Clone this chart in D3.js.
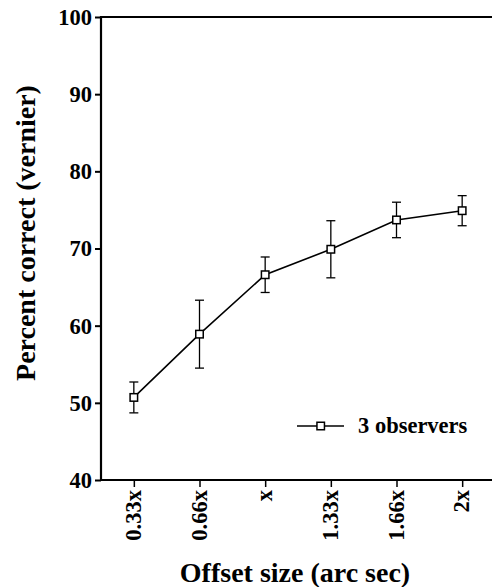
<!DOCTYPE html>
<html>
<head>
<meta charset="utf-8">
<script src="https://cdn.jsdelivr.net/npm/d3@7"></script>
<style>
  html, body { margin: 0; padding: 0; background: #fff; }
  svg { display: block; }
</style>
</head>
<body>
<svg id="chart" width="492" height="587"></svg>
<script>
const categories = ["0.33x", "0.66x", "x", "1.33x", "1.66x", "2x"];
const values = [50.7, 58.9, 66.6, 69.9, 73.7, 74.9];
const errors = [2.0, 4.4, 2.3, 3.7, 2.3, 1.95];
const yTicks = [40, 50, 60, 70, 80, 90, 100];
const seriesName = "3 observers";

(function () {
const FONT = "'Liberation Serif', 'Times New Roman', Times, serif";
const svg = d3.select("#chart");
const pL = 101, pR = 495, pT = 17, pB = 480;

const x = d3.scalePoint().domain(categories).range([pL, pR]).padding(0.5);
const y = d3.scaleLinear().domain([40, 100]).range([pB, pT]);

function styleText(sel, size) {
  sel.style("font-family", FONT).style("font-weight", "bold")
     .style("font-size", size + "px").style("fill", "#000");
}

// Y axis
const yAxis = svg.append("g").attr("transform", `translate(${pL},0)`)
  .call(d3.axisLeft(y).tickValues(yTicks).tickSize(6).tickPadding(3).tickFormat(d3.format("d")));
yAxis.attr("font-family", null).attr("font-size", null);
yAxis.select(".domain").remove();
yAxis.selectAll(".tick line").attr("stroke", "#000").attr("stroke-width", 2);
yAxis.selectAll(".tick text").call(styleText, 22.5).attr("dy", "0.33em");

// X axis
const xAxis = svg.append("g").attr("transform", `translate(0,${pB})`)
  .call(d3.axisBottom(x).tickSize(7).tickPadding(0));
xAxis.attr("font-family", null).attr("font-size", null);
xAxis.select(".domain").remove();
xAxis.selectAll(".tick line").attr("stroke", "#000").attr("stroke-width", 1.5);
xAxis.selectAll(".tick text")
  .call(styleText, 22.5)
  .attr("text-anchor", "end")
  .attr("transform", "rotate(-90)")
  .attr("x", -10)
  .attr("y", 0)
  .attr("dy", "0.3em");

// Frame lines: left axis, top line, bottom axis
svg.append("line").attr("x1", pL).attr("x2", pL).attr("y1", pT - 1).attr("y2", pB + 1)
  .attr("stroke", "#000").attr("stroke-width", 2.2);
svg.append("line").attr("x1", pL).attr("x2", 492).attr("y1", pT).attr("y2", pT)
  .attr("stroke", "#000").attr("stroke-width", 2);
svg.append("line").attr("x1", pL).attr("x2", 492).attr("y1", pB).attr("y2", pB)
  .attr("stroke", "#000").attr("stroke-width", 2.2);

// Error bars
const eb = svg.append("g").attr("stroke", "#000").attr("stroke-width", 1.3);
categories.forEach((c, i) => {
  const cx = x(c);
  const yt = y(values[i] + errors[i]), yb = y(values[i] - errors[i]);
  eb.append("line").attr("x1", cx).attr("x2", cx).attr("y1", yt).attr("y2", yb);
  eb.append("line").attr("x1", cx - 4.5).attr("x2", cx + 4.5).attr("y1", yt).attr("y2", yt);
  eb.append("line").attr("x1", cx - 4.5).attr("x2", cx + 4.5).attr("y1", yb).attr("y2", yb);
});

// Line
const line = d3.line().x((d, i) => x(categories[i])).y(d => y(d));
svg.append("path").datum(values).attr("d", line)
  .attr("fill", "none").attr("stroke", "#000").attr("stroke-width", 1.6);

// Markers
const s = 7.5;
svg.append("g").selectAll("rect").data(values).join("rect")
  .attr("x", (d, i) => x(categories[i]) - s / 2)
  .attr("y", d => y(d) - s / 2)
  .attr("width", s).attr("height", s)
  .attr("fill", "#fff").attr("stroke", "#000").attr("stroke-width", 1.5);

// Legend
const lg = svg.append("g").attr("transform", "translate(297,426)");
lg.append("line").attr("x1", 0).attr("x2", 47).attr("y1", 0).attr("y2", 0)
  .attr("stroke", "#000").attr("stroke-width", 1.6);
lg.append("rect").attr("x", 23.7 - s / 2).attr("y", -s / 2).attr("width", s).attr("height", s)
  .attr("fill", "#fff").attr("stroke", "#000").attr("stroke-width", 1.5);
lg.append("text").attr("x", 61).attr("y", 7).call(styleText, 22.5).text(seriesName);

// Axis titles
svg.append("text").attr("x", 295).attr("y", 582).attr("text-anchor", "middle")
  .call(styleText, 28).text("Offset size (arc sec)");
svg.append("text").attr("transform", "translate(35,233) rotate(-90)").attr("text-anchor", "middle")
  .call(styleText, 28).text("Percent correct (vernier)");
})();
</script>
</body>
</html>
